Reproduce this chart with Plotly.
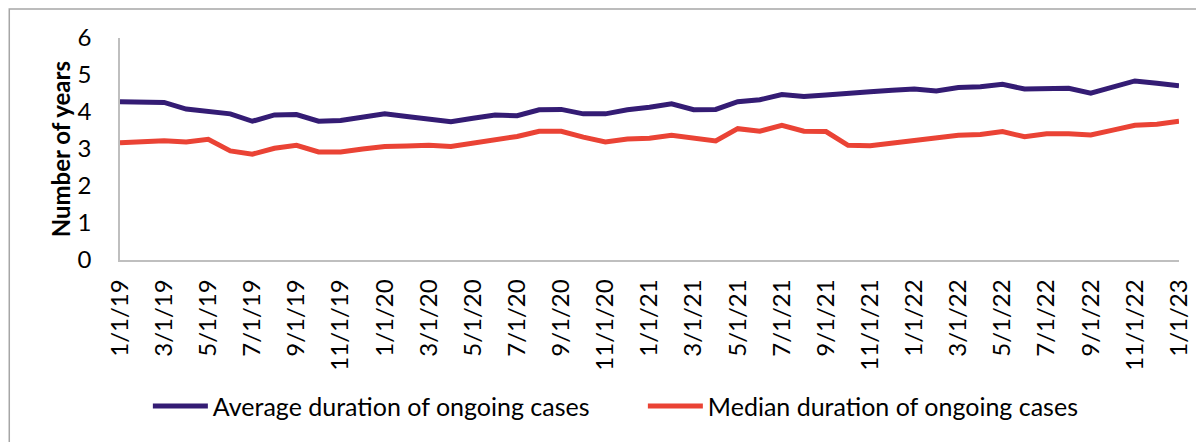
import plotly.graph_objects as go

months = [
    "1/1/19", "2/1/19", "3/1/19", "4/1/19", "5/1/19", "6/1/19", "7/1/19", "8/1/19", "9/1/19", "10/1/19", "11/1/19", "12/1/19",
    "1/1/20", "2/1/20", "3/1/20", "4/1/20", "5/1/20", "6/1/20", "7/1/20", "8/1/20", "9/1/20", "10/1/20", "11/1/20", "12/1/20",
    "1/1/21", "2/1/21", "3/1/21", "4/1/21", "5/1/21", "6/1/21", "7/1/21", "8/1/21", "9/1/21", "10/1/21", "11/1/21", "12/1/21",
    "1/1/22", "2/1/22", "3/1/22", "4/1/22", "5/1/22", "6/1/22", "7/1/22", "8/1/22", "9/1/22", "10/1/22", "11/1/22", "12/1/22",
    "1/1/23",
]

average_duration = [
    4.28, 4.28, 4.26, 4.08, 4.01, 3.95, 3.75, 3.92, 3.93, 3.75, 3.77, 3.86,
    3.95, 3.88, 3.81, 3.74, 3.83, 3.92, 3.90, 4.06, 4.07, 3.95, 3.95, 4.06,
    4.13, 4.22, 4.06, 4.07, 4.28, 4.33, 4.47, 4.42, 4.46, 4.49, 4.55, 4.59,
    4.62, 4.57, 4.66, 4.68, 4.75, 4.62, 4.64, 4.64, 4.51, 4.68, 4.84, 4.78,
    4.71,
]

median_duration = [
    3.17, 3.19, 3.22, 3.19, 3.26, 2.95, 2.86, 3.02, 3.10, 2.92, 2.92, 3.00,
    3.07, 3.08, 3.10, 3.07, 3.16, 3.24, 3.34, 3.48, 3.48, 3.32, 3.19, 3.27,
    3.29, 3.37, 3.28, 3.22, 3.55, 3.48, 3.64, 3.48, 3.47, 3.10, 3.09, 3.16,
    3.24, 3.28, 3.37, 3.39, 3.47, 3.33, 3.41, 3.41, 3.38, 3.51, 3.64, 3.67,
    3.75,
]

tick_labels = months[::2]
y_ticks = [0, 1, 2, 3, 4, 5, 6]

FONT = "Lato, 'Liberation Sans', sans-serif"
TEXT = "#000000"
AXIS = "#BFBFBF"

# The page body has an 8px default margin, so the figure is sized/offset to fit.
W, H = 1196, 434
L, T = 112, 30
PW, PH = 1064, 223

fig = go.Figure()
fig.add_trace(go.Scatter(
    x=months, y=average_duration, mode="lines",
    name="Average duration of ongoing cases",
    line=dict(color="#341C74", width=5),
))
fig.add_trace(go.Scatter(
    x=months, y=median_duration, mode="lines",
    name="Median duration of ongoing cases",
    line=dict(color="#EA4335", width=5),
))

fig.update_layout(
    width=W, height=H,
    margin=dict(l=L, r=W - L - PW, t=T, b=H - T - PH, pad=0),
    paper_bgcolor="white", plot_bgcolor="white",
    font=dict(family=FONT, size=24, color=TEXT),
    showlegend=True,
    legend=dict(
        orientation="h", x=(140 - L) / PW, xanchor="left",
        y=(T + PH - 400) / PH, yanchor="middle",
        font=dict(size=25, color=TEXT), itemwidth=55,
        entrywidth=425, entrywidthmode="pixels",
        bgcolor="rgba(0,0,0,0)",
    ),
    xaxis=dict(
        type="category", range=[0, len(months) - 1],
        tickvals=tick_labels, ticktext=tick_labels, tickangle=-90,
        showgrid=False, showline=True, linecolor=AXIS, linewidth=1.5,
        ticks="", ticklabelstandoff=8, zeroline=False,
        tickfont=dict(size=24, color=TEXT),
    ),
    yaxis=dict(
        range=[0, 6], tickvals=y_ticks, showgrid=False, showline=True,
        linecolor=AXIS, linewidth=1.5, ticks="", ticklabelstandoff=22,
        zeroline=False, tickfont=dict(size=24, color=TEXT),
    ),
    shapes=[
        dict(type="rect", xref="paper", yref="paper",
             x0=(0.75 - L) / PW, x1=1.5, y0=-2.0, y1=(T + PH - 0.75) / PH,
             line=dict(color="#A6A6A6", width=1.5), fillcolor="rgba(0,0,0,0)",
             layer="below"),
    ],
    annotations=[
        dict(text="<b>Number of years</b>", xref="paper", yref="paper",
             x=(52 - L) / PW, y=0.5, xanchor="center", yanchor="middle",
             textangle=-90, showarrow=False, font=dict(size=24, color=TEXT)),
    ],
)

fig.write_html("out.html")
